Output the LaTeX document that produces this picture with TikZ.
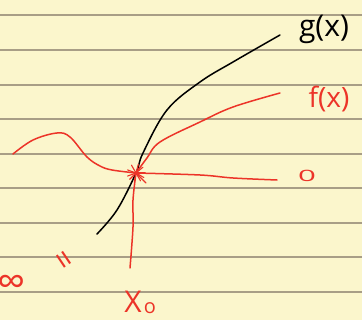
\documentclass[tikz,border=0pt]{standalone}
\usepackage{fontspec}
\setmainfont{Open Sans}
\begin{document}
\begin{tikzpicture}[x=1pt,y=-1pt,
  rule/.style={draw=ruleclr,line width=1.1pt},
  blk/.style={draw=black,line width=1.5pt,line cap=round},
  redl/.style={draw=penred,line width=1.5pt,line cap=round,line join=round},
  redtxt/.style={text=penred,inner sep=0pt},
  blktxt/.style={text=black,inner sep=0pt}]
\definecolor{paper}{RGB}{251,246,204}
\definecolor{ruleclr}{RGB}{168,158,134}
\definecolor{penred}{RGB}{236,52,40}
\fill[paper] (0,0) rectangle (362,320);
\useasboundingbox (0,0) rectangle (362,320);
\foreach \yy in {15,50,85,119,154,188,223,257,292}
  \draw[rule] (0,\yy) -- (362,\yy);
\coordinate (c) at (136,173);
% g(x)
\draw[blk] plot[smooth,tension=0.6] coordinates {(97,234) (117,210) (c) (143,153) (167,110) (200,82) (233,62) (280,35)};
% f(x)
\draw[redl] plot[smooth,tension=0.6] coordinates {(c) (147,158) (160,142) (200,122) (233,107) (280,93)};
% left wiggle
\draw[redl] plot[smooth,tension=0.6] coordinates {(13,154) (33,140) (57,133) (70,137) (87,157) (100,166) (112,170) (c)};
% horizontal to 0
\draw[redl] plot[smooth,tension=0.6] coordinates {(c) (200,175) (233,178) (277,180)};
% vertical to x0
\draw[redl] plot[smooth,tension=0.6] coordinates {(c) (133,200) (133,227) (130,268)};
% star
\foreach \a in {0,30,60,100,135,160,200,240,285,320}
  \draw[redl,line width=1.1pt] (c) -- ++(\a:9);
\draw[redl,line width=1.1pt] (c) -- (146,183);
% labels
\node[blktxt,font=\fontsize{30}{30}\selectfont] (glab) at (324,29) {g(x)};
\node[redtxt,font=\fontsize{28}{28}\selectfont] (flab) at (329,99) {f(x)};
\node[redtxt,font=\fontsize{30}{30}\selectfont] (xlab) at (133,302) {X};
\node[redtxt,font=\fontsize{20}{20}\selectfont] (xsub) at (150,308) {o};
\node[redtxt,font=\fontsize{26}{26}\selectfont,xscale=1.2,yscale=0.6] (zero) at (307,176) {0};
\node[redtxt,font=\fontsize{32}{32}\selectfont,rotate=-56] (eq) at (61,262) {=};
\node[redtxt,font=\fontsize{40}{40}\selectfont] (inf) at (12,285) {∞};
\end{tikzpicture}
\end{document}
